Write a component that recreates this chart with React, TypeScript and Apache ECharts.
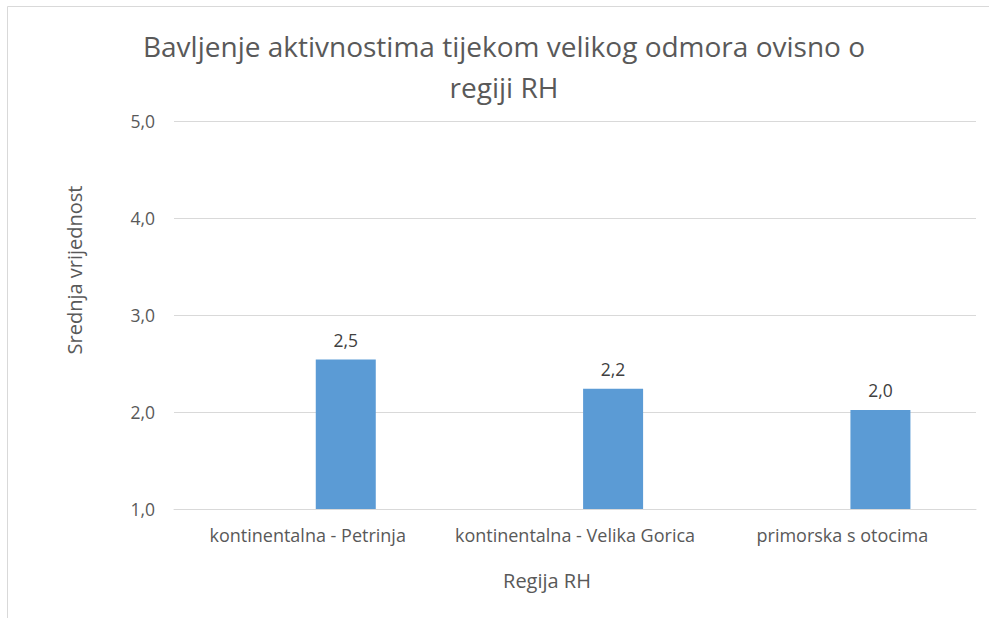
import React, { useEffect, useRef } from "react";
import * as echarts from "echarts";

const categories = [
  "kontinentalna - Petrinja",
  "kontinentalna - Velika Gorica",
  "primorska s otocima",
];
const values = [2.54, 2.24, 2.02];
const emptySeries = [null, null, null];
const yTicks = { min: 1, max: 5, interval: 1 };
const titleLines = [
  "Bavljenje aktivnostima tijekom velikog odmora ovisno o",
  "regiji RH",
];
const xAxisTitle = "Regija RH";
const yAxisTitle = "Srednja vrijednost";

const FONT = "'Open Sans'";
const fmt = (v: number) => v.toFixed(1).replace(".", ",");

export default function App() {
  const ref = useRef<HTMLDivElement>(null);
  useEffect(() => {
    if (!ref.current) return;
    const chart = echarts.init(ref.current, null, { renderer: "svg" });
    chart.setOption({
      animation: false,
      backgroundColor: "#ffffff",
      textStyle: { fontFamily: FONT },
      grid: { left: 174, right: 13, top: 121, bottom: 109, containLabel: false },
      xAxis: {
        type: "category",
        data: categories,
        axisLine: { lineStyle: { color: "#d9d9d9", width: 1 } },
        axisTick: { show: false },
        axisLabel: {
          color: "#595959",
          fontSize: 18,
          fontFamily: FONT,
          margin: 17,
          interval: 0,
          hideOverlap: false,
        },
      },
      yAxis: {
        type: "value",
        min: yTicks.min,
        max: yTicks.max,
        interval: yTicks.interval,
        axisLine: { show: false },
        axisTick: { show: false },
        splitLine: { lineStyle: { color: "#d9d9d9", width: 1 } },
        axisLabel: {
          color: "#595959",
          fontSize: 17.5,
          fontFamily: FONT,
          margin: 19,
          formatter: (v: number) => fmt(v),
        },
      },
      series: [
        {
          type: "bar",
          data: emptySeries,
          barWidth: 60,
          barGap: "27%",
          itemStyle: { color: "#ed7d31" },
        },
        {
          type: "bar",
          data: values,
          barWidth: 60,
          barGap: "27%",
          itemStyle: { color: "#5b9bd5" },
          label: {
            show: true,
            position: "top",
            distance: 11,
            color: "#404040",
            fontSize: 17.5,
            fontFamily: FONT,
            formatter: (p: any) => fmt(p.value),
          },
        },
      ],
      graphic: [
        {
          type: "rect",
          shape: { x: 7.5, y: 6.5, width: 1100, height: 800 },
          style: { fill: "none", stroke: "#d9d9d9", lineWidth: 1 },
          silent: true,
        },
        {
          type: "text",
          x: 504,
          y: 46,
          style: {
            text: titleLines[0],
            fill: "#595959",
            font: `28px ${FONT}`,
            align: "center",
            verticalAlign: "middle",
          },
        },
        {
          type: "text",
          x: 504,
          y: 87,
          style: {
            text: titleLines[1],
            fill: "#595959",
            font: `28px ${FONT}`,
            align: "center",
            verticalAlign: "middle",
          },
        },
        {
          type: "text",
          x: 547,
          y: 580,
          style: {
            text: xAxisTitle,
            fill: "#595959",
            font: `20px ${FONT}`,
            align: "center",
            verticalAlign: "middle",
          },
        },
        {
          type: "text",
          x: 74,
          y: 270,
          rotation: Math.PI / 2,
          style: {
            text: yAxisTitle,
            fill: "#595959",
            font: `20px ${FONT}`,
            align: "center",
            verticalAlign: "middle",
          },
        },
      ],
    });
    return () => chart.dispose();
  }, []);
  return (
    <div
      ref={ref}
      style={{ position: "absolute", left: 0, top: 0, width: 989, height: 618 }}
    />
  );
}
